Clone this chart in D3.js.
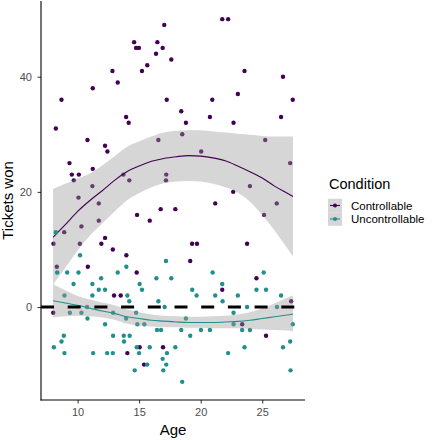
<!DOCTYPE html>
<html>
<head>
<meta charset="utf-8">
<script src="https://cdn.jsdelivr.net/npm/d3@7"></script>
<style>
  body { margin: 0; background: #fff; }
  text { font-family: "Liberation Sans", Arial, Helvetica, sans-serif; }
</style>
</head>
<body>
<div id="chart"></div>
<script>
const width = 432;
const height = 440;

// raw points
const ageCtrl = [12.83, 13.26, 11.23, 8.69, 8.23, 13.94, 14.15, 10.8, 12.23, 12.42,
  9.34, 9.53, 10.1, 9.69, 11.23, 11.2, 13.72, 14.2, 10.07, 11.72,
  17.04, 14.59, 16.48, 14.75, 14.98, 16.91, 16.37, 17.61, 15.66, 15.23,
  17.24, 20.94, 18.42, 20.75, 18.8, 18.5, 16.56, 20.04, 17.2, 17.18,
  21.18, 21.75, 22.23, 23.56, 26.69, 23.02, 27.48, 26.53, 22.67, 25.24,
  27.27, 24.0, 22.64, 26.18, 10.31, 8.91, 8.04, 11.72, 12.23, 11.93,
  10.18, 12.86, 13.96, 10.83, 8.31, 12.96, 13.5, 8.02, 14.04, 16.75,
  17.94, 14.83, 15.86, 19.3, 19.7, 19.15, 14.8, 15.04, 16.94, 15.4,
  25.15, 23.77, 24.53, 21.75, 27.35, 23.37, 25.31];
const ticketsCtrl = [41, 39, 38, 36, 31, 33, 32, 29, 28, 27,
  25, 23, 23, 22, 24, 21, 23, 22, 19, 18,
  49, 46, 46, 45, 45, 45, 44, 43, 42, 41,
  36, 36, 34, 33, 32, 30, 29, 27, 23, 22,
  18, 50, 50, 41, 40, 37, 36, 33, 32, 29,
  25, 21, 20, 18, 14, 13, 11, 15, 12, 11,
  11, 10, 9, 7, 7, 2, 2, -1, -8, 17,
  17, 16, 15, 11, 11, 8, 6, -7, -7, -10,
  16, 11, 5, 3, 1, -3, -5];

const ageUnc = [8.23, 10.2, 13.96, 8.34, 9.15, 10.07, 13.26, 11.91, 9.67, 11.2,
  11.72, 12.23, 8.93, 11.2, 14.04, 14.2, 9.37, 10.31, 10.77, 12.88,
  10.8, 12.23, 13.94, 8.88, 8.69, 8.07, 8.93, 11.26, 12.4, 12.86,
  12.88, 13.75, 14.23, 13.77, 17.18, 16.4, 17.61, 20.97, 15.04, 15.23,
  19.31, 19.67, 21.18, 16.56, 17.07, 14.75, 14.85, 15.42, 18.8, 16.45,
  16.78, 18.42, 19.15, 20.02, 20.75, 14.8, 15.86, 17.94, 17.26, 14.99,
  16.91, 15.65, 17.2, 14.64, 16.96, 18.5, 25.12, 21.75, 24.53, 25.31,
  23.02, 26.53, 21.78, 23.77, 26.2, 22.67, 22.67, 23.37, 24.0, 27.48,
  27.27, 26.69, 23.56, 22.23, 27.3];
const ticketsUnc = [13, 9, 7, 6, 6, 6, 6, 5, 4, 4,
  3, 3, 2, 2, 2, 1, -1, -1, 0, -1,
  -2, -3, -2, -5, -6, -7, -8, -8, -8, -8,
  -5, -5, -5, -6, 8, 5, 5, 6, 4, 3,
  3, 2, 2, 1, 0, -1, -3, -3, -2, -4,
  -4, -4, -5, -4, -4, -7, -7, -7, -8, -8,
  -9, -10, -10, -11, -11, -13, 6, 4, 3, 3,
  2, 2, 1, 0, 0, -1, -3, -4, -4, -3,
  -6, -7, -7, -8, -11];

// smooth fits (loess) and their confidence bands
const fitAge = [8, 9, 10, 11, 12, 13, 14, 15, 16, 17, 18, 19, 20, 21, 22, 23, 24, 25, 26, 27, 27.5];
const fitCtrl = [12.1, 14.3, 16.6, 18.5, 20.2, 22.0, 23.5, 24.5, 25.3, 25.8, 26.1, 26.3, 26.2, 25.9, 25.4, 24.5, 23.5, 22.4, 21.0, 19.8, 19.2];
const hiCtrl = [20.5, 21.4, 22.3, 23.2, 24.6, 26.2, 27.8, 28.8, 29.6, 30.3, 30.6, 30.7, 30.7, 30.5, 30.3, 30.1, 29.9, 29.7, 29.6, 29.6, 29.6];
const loCtrl = [3.9, 6.8, 9.8, 12.4, 14.5, 16.6, 18.5, 19.8, 20.8, 21.5, 21.8, 21.9, 21.8, 21.4, 20.8, 19.9, 18.3, 16.0, 13.3, 10.3, 8.8];
const fitUnc = [1.1, 0.7, 0.3, -0.2, -0.7, -1.1, -1.7, -2.0, -2.3, -2.45, -2.6, -2.7, -2.7, -2.7, -2.6, -2.5, -2.3, -2.0, -1.7, -1.4, -1.2];
const hiUnc = [4.0, 2.9, 1.9, 1.3, 0.8, 0.3, -0.4, -0.9, -1.3, -1.5, -1.6, -1.7, -1.7, -1.6, -1.5, -1.3, -0.9, -0.2, 0.6, 1.6, 2.0];
const loUnc = [-1.8, -1.6, -1.5, -1.6, -1.8, -2.2, -2.9, -3.2, -3.4, -3.5, -3.5, -3.6, -3.6, -3.7, -3.7, -3.7, -3.8, -3.9, -4.0, -4.1, -4.2];

const xTicks = [10, 15, 20, 25];
const yTicks = [0, 20, 40];
const conditions = ['Controllable', 'Uncontrollable'];
const colors = ['#440154', '#21908C'];

const panel = {left: 41, right: 305, top: 1, bottom: 400};

const svg = d3.select('#chart')
  .append('svg')
  .attr('width', width)
  .attr('height', height);

// ggplot style 5% expansion
function expand(ext) {
  const pad = (ext[1] - ext[0]) * 0.05;
  return [ext[0] - pad, ext[1] + pad];
}

const x = d3.scaleLinear()
  .domain(expand(d3.extent(ageCtrl.concat(ageUnc, fitAge))))
  .range([panel.left, panel.right]);
const y = d3.scaleLinear()
  .domain(expand(d3.extent(ticketsCtrl.concat(ticketsUnc))))
  .range([panel.bottom, panel.top]);

const groups = [
  {name: conditions[0], color: colors[0], age: ageCtrl, val: ticketsCtrl, fit: fitCtrl, lo: loCtrl, hi: hiCtrl},
  {name: conditions[1], color: colors[1], age: ageUnc, val: ticketsUnc, fit: fitUnc, lo: loUnc, hi: hiUnc}
];

const area = d3.area()
  .x(d => x(d.a))
  .y0(d => y(d.lo))
  .y1(d => y(d.hi))
  .curve(d3.curveMonotoneX);
const line = d3.line()
  .x(d => x(d.a))
  .y(d => y(d.f))
  .curve(d3.curveMonotoneX);

groups.forEach(g => {
  // points first, then the smooth on top
  svg.append('g')
    .selectAll('circle')
    .data(g.age.map((a, i) => ({a: a, v: g.val[i]})))
    .join('circle')
      .attr('cx', d => x(d.a))
      .attr('cy', d => y(d.v))
      .attr('r', 2.2)
      .attr('fill', g.color);

  const fitData = fitAge.map((a, i) => ({a: a, f: g.fit[i], lo: g.lo[i], hi: g.hi[i]}));
  svg.append('path')
    .datum(fitData)
    .attr('d', area)
    .attr('fill', '#999999')
    .attr('fill-opacity', 0.4);
  svg.append('path')
    .datum(fitData)
    .attr('d', line)
    .attr('fill', 'none')
    .attr('stroke', g.color)
    .attr('stroke-width', 1.1);
});

// dashed reference line at zero
svg.append('line')
  .attr('x1', panel.left)
  .attr('x2', panel.right)
  .attr('y1', y(0))
  .attr('y2', y(0))
  .attr('stroke', '#000')
  .attr('stroke-width', 3.2)
  .attr('stroke-dasharray', '13 13.7');

// axes
const xAxis = svg.append('g')
  .attr('transform', `translate(0,${panel.bottom})`)
  .call(d3.axisBottom(x).tickValues(xTicks).tickSize(3.5).tickPadding(5));
const yAxis = svg.append('g')
  .attr('transform', `translate(${panel.left},0)`)
  .call(d3.axisLeft(y).tickValues(yTicks).tickSize(3.5).tickPadding(5.5));

[xAxis, yAxis].forEach(ax => {
  ax.select('.domain').remove();
  ax.selectAll('.tick line').attr('stroke', '#333333').attr('stroke-width', 1);
  ax.selectAll('.tick text')
    .attr('fill', '#4D4D4D')
    .style('font-size', '11px')
    .style('font-family', '"Liberation Sans", Arial, sans-serif');
});

svg.append('line')
  .attr('x1', panel.left).attr('x2', panel.left)
  .attr('y1', panel.top).attr('y2', panel.bottom + 0.5)
  .attr('stroke', '#000').attr('stroke-width', 1.1);
svg.append('line')
  .attr('x1', panel.left - 0.5).attr('x2', panel.right)
  .attr('y1', panel.bottom).attr('y2', panel.bottom)
  .attr('stroke', '#000').attr('stroke-width', 1.1);

// axis titles
svg.append('text')
  .attr('x', (panel.left + panel.right) / 2)
  .attr('y', 434.5)
  .attr('text-anchor', 'middle')
  .style('font-size', '15px')
  .text('Age');
svg.append('text')
  .attr('transform', `translate(13,${(panel.top + panel.bottom) / 2}) rotate(-90)`)
  .attr('text-anchor', 'middle')
  .style('font-size', '15px')
  .text('Tickets won');

// legend
const legend = svg.append('g');
legend.append('text')
  .attr('x', 329)
  .attr('y', 189)
  .style('font-size', '14.5px')
  .text('Condition');

const keyH = 13.5;
groups.forEach((g, i) => {
  const cy = 205.5 + i * keyH;
  legend.append('rect')
    .attr('x', 328)
    .attr('y', cy - keyH / 2)
    .attr('width', 14)
    .attr('height', keyH)
    .attr('fill', '#D6D6D6');
  legend.append('line')
    .attr('x1', 330).attr('x2', 340)
    .attr('y1', cy).attr('y2', cy)
    .attr('stroke', g.color)
    .attr('stroke-width', 1.1);
  legend.append('circle')
    .attr('cx', 335)
    .attr('cy', cy)
    .attr('r', 2)
    .attr('fill', g.color);
  legend.append('text')
    .attr('x', 351)
    .attr('y', cy)
    .attr('dy', '0.35em')
    .style('font-size', '11.5px')
    .text(g.name);
});
</script>
</body>
</html>
